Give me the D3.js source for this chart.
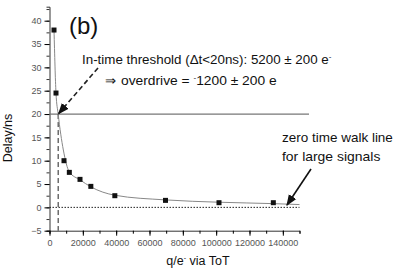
<!DOCTYPE html>
<html>
<head>
<meta charset="utf-8">
<script src="https://cdn.jsdelivr.net/npm/d3@7"></script>
<style>
  body { margin: 0; background: #fff; }
  text { font-family: "Liberation Sans", sans-serif; }
</style>
</head>
<body>
<div id="viz"></div>
<script>
// measured points (charge in e-, delay in ns)
let charge = [2700, 3900, 8700, 11900, 18300, 24800, 39200, 69600, 101700, 134300];
let delay = [38, 24.5, 10, 7.5, 6, 4.5, 2.5, 1.5, 1.0, 1.0];
// grey fit curve
let fitQ = [2700, 3900, 5200, 8300, 11900, 18300, 24800, 39200, 69600, 101700, 134300, 150000];
let fitD = [38, 24.5, 20, 12.3, 7.6, 5.9, 4.4, 2.6, 1.6, 1.1, 0.8, 0.6];
let xTicks = [0, 20000, 40000, 60000, 80000, 100000, 120000, 140000];
let yTicks = [-5, 0, 5, 10, 15, 20, 25, 30, 35, 40];
let threshold = 5200;
let inTime = 20;

let width = 399, height = 272;

let svg = d3.select("#viz")
    .append("svg")
    .attr("width", width)
    .attr("height", height);

let x = d3.scaleLinear().domain([0, 150000]).range([49.5, 299.5]);
let y = d3.scaleLinear().domain([-5, 43]).range([230.7, 6.7]);

svg.append("defs").append("marker")
    .attr("id", "arr")
    .attr("viewBox", "0 0 10 10")
    .attr("refX", 9).attr("refY", 5)
    .attr("markerWidth", 7).attr("markerHeight", 7)
    .attr("orient", "auto")
    .append("path")
    .attr("d", "M0,1 L10,5 L0,9 z")
    .attr("fill", "#111");

// axes
let yAxis = svg.append("g").attr("transform", "translate(" + x(0) + ",0)");
yAxis.call(d3.axisLeft(y).tickValues(d3.range(-5, 43, 2.5)).tickSize(3).tickFormat(""));
yAxis.call(g => g.selectAll(".tick line").attr("stroke", "#333"));
let yMaj = svg.append("g").attr("transform", "translate(" + x(0) + ",0)")
    .call(d3.axisLeft(y).tickValues(yTicks).tickSize(5).tickPadding(3));
yMaj.select(".domain").remove();
yAxis.select(".domain").attr("stroke", "#333");
yMaj.selectAll("text").attr("font-size", 9).attr("fill", "#555");

let xAxis = svg.append("g").attr("transform", "translate(0," + y(-5) + ")");
xAxis.call(d3.axisBottom(x).tickValues(d3.range(0, 150001, 10000)).tickSize(3).tickFormat(""));
xAxis.select(".domain").attr("stroke", "#333");
let xMaj = svg.append("g").attr("transform", "translate(0," + y(-5) + ")")
    .call(d3.axisBottom(x).tickValues(xTicks).tickSize(5).tickPadding(4).tickFormat(d3.format("d")));
xMaj.select(".domain").remove();
xMaj.selectAll("text").attr("font-size", 9).attr("fill", "#555");

// reference lines
svg.append("line")
    .attr("x1", x(0)).attr("x2", 309)
    .attr("y1", y(inTime)).attr("y2", y(inTime))
    .attr("stroke", "#777").attr("stroke-width", 1.3);
svg.append("line")
    .attr("x1", x(0)).attr("x2", x(150000))
    .attr("y1", y(0)).attr("y2", y(0))
    .attr("stroke", "#222").attr("stroke-width", 1)
    .attr("stroke-dasharray", "1.5,1.5");
svg.append("line")
    .attr("x1", x(threshold)).attr("x2", x(threshold))
    .attr("y1", y(inTime)).attr("y2", y(-5))
    .attr("stroke", "#222").attr("stroke-width", 1)
    .attr("stroke-dasharray", "5,3");

// fit curve
let fit = fitQ.map((q, i) => [q, fitD[i]]);
svg.append("path")
    .datum(fit)
    .attr("fill", "none")
    .attr("stroke", "#888")
    .attr("stroke-width", 1)
    .attr("d", d3.line().x(d => x(d[0])).y(d => y(d[1])).curve(d3.curveMonotoneX));

// markers
svg.selectAll(".pt")
    .data(charge.map((q, i) => [q, delay[i]]))
    .enter()
    .append("rect")
    .attr("x", d => x(d[0]) - 2.5)
    .attr("y", d => y(d[1]) - 2.5)
    .attr("width", 5).attr("height", 5)
    .attr("fill", "#111");

// annotation arrows
svg.append("line")
    .attr("x1", 98).attr("y1", 68)
    .attr("x2", x(threshold) + 0.5).attr("y2", y(inTime) - 0.5)
    .attr("stroke", "#222").attr("stroke-width", 1.6)
    .attr("stroke-dasharray", "5,3")
    .attr("marker-end", "url(#arr)");
svg.append("line")
    .attr("x1", 311).attr("y1", 169)
    .attr("x2", 287).attr("y2", 205)
    .attr("stroke", "#111").attr("stroke-width", 1.6)
    .attr("marker-end", "url(#arr)");

// squeeze a text to a given width (the original uses a narrow face)
function fitWidth(sel, x0, y0, w) {
    let bb = sel.node().getBBox();
    let k = w / bb.width;
    sel.attr("x", 0).attr("y", 0)
        .attr("transform", "translate(" + x0 + "," + y0 + ") scale(" + k + ",1)");
}

// texts
svg.append("text").attr("x", 69).attr("y", 34)
    .attr("font-size", 24).attr("fill", "#111")
    .text("(b)");

let t1 = svg.append("text").attr("font-size", 13.5).attr("fill", "#111");
t1.append("tspan").text("In-time threshold (\u0394t<20ns): 5200 \u00b1 200 e");
t1.append("tspan").attr("dy", -5).attr("font-size", 8).text("-");
fitWidth(t1, 82, 64, 250);

let t2 = svg.append("text").attr("font-size", 13.5).attr("fill", "#111");
t2.append("tspan").text("\u21d2 overdrive = ");
t2.append("tspan").attr("dy", -5).attr("font-size", 8).text("-");
t2.append("tspan").attr("dy", 5).text("1200 \u00b1 200 e");
fitWidth(t2, 105, 85, 172);

let t3 = svg.append("text").attr("font-size", 13).attr("fill", "#111")
    .text("zero time walk line");
fitWidth(t3, 282, 142, 111);
let t4 = svg.append("text").attr("font-size", 13).attr("fill", "#111")
    .text("for large signals");
fitWidth(t4, 282, 161, 99);

let xt = svg.append("text").attr("x", 198).attr("y", 265)
    .attr("text-anchor", "middle")
    .attr("font-size", 12.5).attr("fill", "#111");
xt.append("tspan").text("q/e");
xt.append("tspan").attr("dy", -5).attr("font-size", 7).text("-");
xt.append("tspan").attr("dy", 5).text(" via ToT");

svg.append("text")
    .attr("transform", "translate(12,138) rotate(-90)")
    .attr("text-anchor", "middle")
    .attr("font-size", 12.5).attr("fill", "#111")
    .text("Delay/ns");
</script>
</body>
</html>
